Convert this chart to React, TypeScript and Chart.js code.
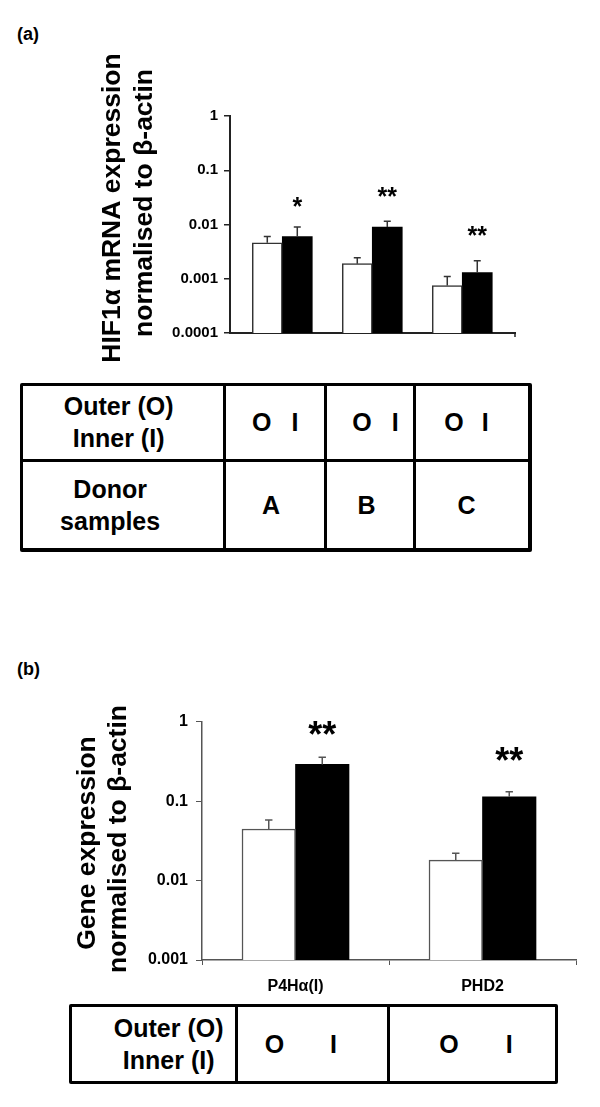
import React, { useEffect, useRef } from "react";
import { Chart, registerables } from "chart.js";
Chart.register(...registerables);

const FONT = "'Liberation Sans', Arial, Helvetica, sans-serif";

// ---------- Panel (a) data ----------
const donorsA = ["A", "B", "C"];
const outerA = [0.0046, 0.0019, 0.00075];
const innerA = [0.006, 0.009, 0.0013];
const outerErrA = [0.006, 0.00245, 0.0011];
const innerErrA = [0.009, 0.0115, 0.00215];
const sigA = ["*", "**", "**"];
const sigPosA = [0.027, 0.0415, 0.0079];
const yTicksA = [0.0001, 0.001, 0.01, 0.1, 1];
const yTickLabelsA = ["0.0001", "0.001", "0.01", "0.1", "1"];
const yTitleA = ["HIF1α mRNA expression", "normalised to β-actin"];

// ---------- Panel (b) data ----------
const genesB = ["P4Hα(I)", "PHD2"];
const outerB = [0.0446, 0.0181];
const innerB = [0.29, 0.1135];
const outerErrB = [0.0578, 0.022];
const innerErrB = [0.356, 0.131];
const sigB = ["**", "**"];
const sigPosB = [0.883, 0.407];
const yTicksB = [0.001, 0.01, 0.1, 1];
const yTickLabelsB = ["0.001", "0.01", "0.1", "1"];
const yTitleB = ["Gene expression", "normalised to β-actin"];

// ---------- Table text ----------
const rowHeaderOI = ["Outer (O)", "Inner (I)"];
const rowHeaderDonor = ["Donor", "samples"];
const oiLetters = ["O", "I"];

const extrasPlugin = {
  id: "extras",
  afterDatasetsDraw(chart: any, _args: any, opts: any) {
    const ctx = chart.ctx;
    const yScale = chart.scales.y;
    ctx.save();
    ctx.strokeStyle = opts.errColor;
    ctx.lineWidth = opts.errWidth;
    (opts.errors || []).forEach((arr: number[], di: number) => {
      const meta = chart.getDatasetMeta(di);
      meta.data.forEach((bar: any, i: number) => {
        const x = bar.x;
        const y0 = bar.y;
        const y1 = yScale.getPixelForValue(arr[i]);
        ctx.beginPath();
        ctx.moveTo(x, y0);
        ctx.lineTo(x, y1);
        ctx.moveTo(x - opts.cap, y1);
        ctx.lineTo(x + opts.cap, y1);
        ctx.stroke();
      });
    });
    const metaS = chart.getDatasetMeta(opts.sigDataset);
    ctx.fillStyle = "#000";
    ctx.font = `bold ${opts.sigSize}px ${FONT}`;
    ctx.textAlign = "center";
    ctx.textBaseline = "alphabetic";
    metaS.data.forEach((bar: any, i: number) => {
      const yc = yScale.getPixelForValue(opts.sigPos[i]);
      ctx.fillText(opts.sig[i], bar.x, yc + 0.57 * opts.sigSize);
    });
    // small closing tick at the right end of the x axis
    if (opts.endTick) {
      const area = chart.chartArea;
      ctx.strokeStyle = opts.endTick.color;
      ctx.lineWidth = 1.5;
      ctx.beginPath();
      ctx.moveTo(area.right, area.bottom);
      ctx.lineTo(area.right, area.bottom + opts.endTick.len);
      ctx.stroke();
    }
    ctx.restore();
  },
  afterDraw(chart: any, _args: any, opts: any) {
    const ctx = chart.ctx;
    ctx.save();
    ctx.fillStyle = "#000";
    ctx.font = `bold ${opts.titleSize}px ${FONT}`;
    ctx.textAlign = "center";
    ctx.textBaseline = "alphabetic";
    (opts.titles || []).forEach((t: any) => {
      ctx.save();
      ctx.translate(t.x, t.y);
      ctx.rotate(-Math.PI / 2);
      ctx.fillText(t.text, 0, 0);
      ctx.restore();
    });
    ctx.restore();
  },
};

function ChartA() {
  const ref = useRef<HTMLCanvasElement>(null);
  useEffect(() => {
    const chart = new Chart(ref.current as HTMLCanvasElement, {
      type: "bar",
      data: {
        labels: donorsA,
        datasets: [
          {
            label: "Outer",
            data: outerA.map((v, i) => ({ x: i, y: v })) as any,
            backgroundColor: "#ffffff",
            borderColor: "#333333",
            borderWidth: 1.5,
            barThickness: 30,
          },
          {
            label: "Inner",
            data: innerA.map((v, i) => ({ x: i, y: v })) as any,
            backgroundColor: "#000000",
            borderColor: "#000000",
            borderWidth: 0,
            barThickness: 30,
          },
        ],
      },
      options: {
        responsive: false,
        animation: false,
        layout: { padding: { top: 116, right: 85, bottom: 37, left: 0 } },
        scales: {
          x: {
            type: "linear",
            min: -0.581,
            max: 2.586,
            offset: false,
            bounds: "data",
            grace: 0,
            ticks: { display: false },
            grid: { display: false, offset: false },
            border: { display: true, color: "#222", width: 2 },
            afterFit: (s: any) => {
              s.height = 0;
            },
          },
          y: {
            type: "logarithmic",
            min: 0.0001,
            max: 1,
            afterBuildTicks: (s: any) => {
              s.ticks = yTicksA.map((v) => ({ value: v }));
            },
            afterFit: (s: any) => {
              s.width = 230;
            },
            ticks: {
              autoSkip: false,
              padding: 6,
              color: "#000",
              font: { family: FONT, size: 15, weight: "bold" },
              callback: (_v: any, i: number) => yTickLabelsA[i],
            },
            grid: {
              display: true,
              drawOnChartArea: false,
              drawTicks: true,
              tickLength: 6,
              color: "#222",
              lineWidth: 1.5,
            },
            border: { display: true, color: "#222", width: 2 },
          },
        },
        plugins: {
          legend: { display: false },
          tooltip: { enabled: false },
          extras: {
            errors: [outerErrA, innerErrA],
            errColor: "#333",
            errWidth: 1.5,
            cap: 3.5,
            sig: sigA,
            sigPos: sigPosA,
            sigSize: 25,
            sigDataset: 1,
            endTick: { color: "#222", len: 4 },
            titleSize: 26.5,
            titles: [
              { text: yTitleA[0], x: 120, y: 208 },
              { text: yTitleA[1], x: 152, y: 203 },
            ],
          },
        } as any,
      },
      plugins: [extrasPlugin as any],
    });
    return () => chart.destroy();
  }, []);
  return (
    <canvas
      ref={ref}
      width={600}
      height={370}
      style={{ position: "absolute", left: 0, top: 0, width: 600, height: 370 }}
    />
  );
}

function ChartB() {
  const ref = useRef<HTMLCanvasElement>(null);
  useEffect(() => {
    const chart = new Chart(ref.current as HTMLCanvasElement, {
      type: "bar",
      data: {
        labels: genesB,
        datasets: [
          {
            label: "Outer",
            data: outerB,
            backgroundColor: "#ffffff",
            borderColor: "#555555",
            borderWidth: 1.5,
            barThickness: 53.5,
          },
          {
            label: "Inner",
            data: innerB,
            backgroundColor: "#000000",
            borderColor: "#000000",
            borderWidth: 0,
            barThickness: 53.5,
          },
        ],
      },
      options: {
        responsive: false,
        animation: false,
        layout: { padding: { top: 81.7, right: 24, bottom: 0, left: 0 } },
        scales: {
          x: {
            type: "category",
            offset: true,
            ticks: {
              padding: 12,
              color: "#000",
              font: { family: FONT, size: 16, weight: "bold" },
            },
            grid: {
              display: true,
              offset: true,
              drawOnChartArea: false,
              drawTicks: true,
              tickLength: 5,
              color: "#555",
              lineWidth: 1,
            },
            border: { display: true, color: "#555", width: 1.5 },
            afterFit: (s: any) => {
              s.height = 40;
            },
          },
          y: {
            type: "logarithmic",
            min: 0.001,
            max: 1,
            afterBuildTicks: (s: any) => {
              s.ticks = yTicksB.map((v) => ({ value: v }));
            },
            afterFit: (s: any) => {
              s.width = 202;
            },
            ticks: {
              autoSkip: false,
              padding: 8,
              color: "#000",
              font: { family: FONT, size: 16, weight: "bold" },
              callback: (_v: any, i: number) => yTickLabelsB[i],
            },
            grid: {
              display: true,
              drawOnChartArea: false,
              drawTicks: true,
              tickLength: 6,
              color: "#555",
              lineWidth: 1,
            },
            border: { display: true, color: "#555", width: 1.5 },
          },
        },
        plugins: {
          legend: { display: false },
          tooltip: { enabled: false },
          extras: {
            errors: [outerErrB, innerErrB],
            errColor: "#555",
            errWidth: 1.5,
            cap: 3.7,
            sig: sigB,
            sigPos: sigPosB,
            sigSize: 36,
            sigDataset: 1,
            titleSize: 26.5,
            titles: [
              { text: yTitleB[0], x: 95, y: 203 },
              { text: yTitleB[1], x: 126, y: 199 },
            ],
          },
        } as any,
      },
      plugins: [extrasPlugin as any],
    });
    return () => chart.destroy();
  }, []);
  return (
    <canvas
      ref={ref}
      width={600}
      height={360}
      style={{ position: "absolute", left: 0, top: 640, width: 600, height: 360 }}
    />
  );
}

const cellText: React.CSSProperties = {
  background: "#fff",
  display: "flex",
  alignItems: "center",
  justifyContent: "center",
  textAlign: "center",
  fontWeight: "bold",
  fontSize: 25,
  lineHeight: "32px",
  color: "#000",
};

function OI({ gap, shift }: { gap: number; shift: number }) {
  return (
    <div style={{ ...cellText, paddingLeft: shift > 0 ? shift * 2 : 0, paddingRight: shift < 0 ? -shift * 2 : 0 }}>
      <span>{oiLetters[0]}</span>
      <span style={{ marginLeft: gap }}>{oiLetters[1]}</span>
    </div>
  );
}

function TableA() {
  return (
    <div
      style={{
        position: "absolute",
        left: 19.5,
        top: 382.5,
        width: 512,
        height: 169,
        boxSizing: "border-box",
        background: "#000",
        padding: 3,
        display: "grid",
        gap: 3,
        gridTemplateColumns: "200.3px 98.7px 86px 112px",
        gridTemplateRows: "73.7px 86.3px",
        borderRadius: 2,
      }}
    >
      <div style={{ ...cellText, paddingRight: 8 }}>
        <div>
          {rowHeaderOI[0]}
          <br />
          {rowHeaderOI[1]}
        </div>
      </div>
      <OI gap={20} shift={0} />
      <OI gap={20} shift={5} />
      <OI gap={18} shift={-6} />
      <div style={{ ...cellText, paddingRight: 25 }}>
        <div>
          {rowHeaderDonor[0]}
          <br />
          {rowHeaderDonor[1]}
        </div>
      </div>
      {donorsA.map((d, i) => (
        <div key={d} style={{ ...cellText, paddingRight: i === 2 ? 12 : 8 }}>
          {d}
        </div>
      ))}
    </div>
  );
}

function TableB() {
  return (
    <div
      style={{
        position: "absolute",
        left: 69.2,
        top: 1003.5,
        width: 489.3,
        height: 80,
        boxSizing: "border-box",
        background: "#000",
        padding: 3,
        display: "grid",
        gap: 3,
        gridTemplateColumns: "163px 149.3px 165px",
        gridTemplateRows: "74px",
        borderRadius: 2,
      }}
    >
      <div style={{ ...cellText, paddingLeft: 30 }}>
        <div>
          {rowHeaderOI[0]}
          <br />
          {rowHeaderOI[1]}
        </div>
      </div>
      <OI gap={46} shift={-12} />
      <OI gap={47} shift={3} />
    </div>
  );
}

export default function App() {
  return (
    <div
      style={{
        position: "absolute",
        left: 0,
        top: 0,
        width: 600,
        height: 1107,
        background: "#fff",
        fontFamily: FONT,
        overflow: "hidden",
      }}
    >
      <div style={{ position: "absolute", left: 17, top: 25, fontSize: 18, lineHeight: "18px", fontWeight: "bold" }}>(a)</div>
      <div style={{ position: "absolute", left: 17, top: 660, fontSize: 18, lineHeight: "18px", fontWeight: "bold" }}>(b)</div>
      <ChartA />
      <TableA />
      <ChartB />
      <TableB />
    </div>
  );
}
